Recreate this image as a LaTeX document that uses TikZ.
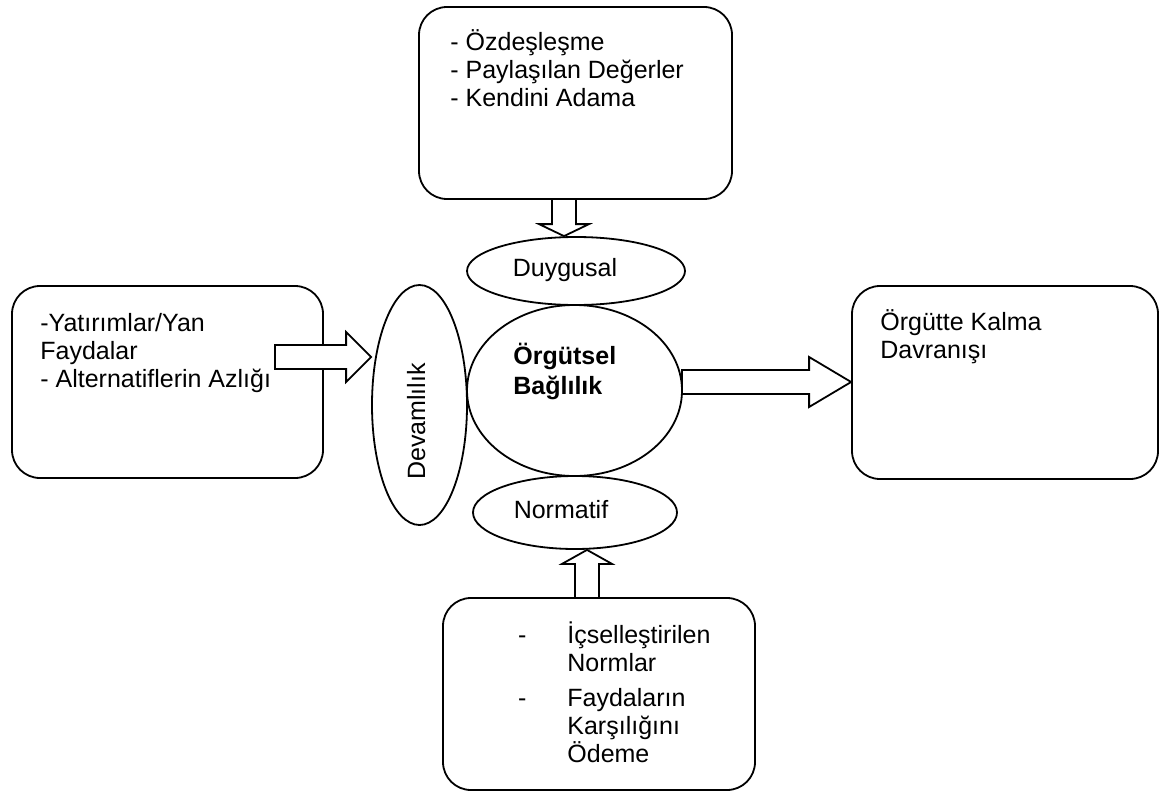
\documentclass[tikz,border=0pt]{standalone}
\usepackage{fontspec}
\setmainfont{Liberation Sans}
\usetikzlibrary{shapes.geometric,calc}
\tikzstyle{box}=[draw, line width=0.9pt, rounded corners=14pt, inner sep=0pt]
\tikzstyle{oval}=[draw, ellipse, line width=0.9pt, inner sep=0pt]
\tikzstyle{fat}=[draw, fill=white, line width=0.9pt, line join=miter]
\tikzstyle{along}=[shift={(\p1)}, rotate=\n1]
\tikzstyle{txt}=[anchor=base west, align=left, inner sep=0pt, font=\fontsize{12.5}{14}\selectfont]
\newcommand{\fatarrow}[3]{%
  \draw[fat] let \p1=(#1), \p2=(#2),
      \n1={atan2(\y2-\y1,\x2-\x1)}, \n2={veclen(\x2-\x1,\y2-\y1)} in
    ([along]0pt,6pt) -- ([along]\n2-#3,6pt) -- ([along]\n2-#3,12.5pt) -- (#2)
    -- ([along]\n2-#3,-12.5pt) -- ([along]\n2-#3,-6pt) -- ([along]0pt,-6pt) -- cycle;}

\begin{document}
\begin{tikzpicture}[x=0.5pt, y=-0.5pt]
				\useasboundingbox (0,0) rectangle (1159,791);

				% boxes
				\node[box, minimum width=156.5pt, minimum height=96pt] (tbox) at (575.5,103) {};
				\node[box, minimum width=155.5pt, minimum height=96pt] (lbox) at (167.5,382) {};
				\node[box, minimum width=153pt, minimum height=96.5pt] (rbox) at (1005,382.5) {};
				\node[box, minimum width=156pt, minimum height=96pt] (bbox) at (599,694) {};

				% ovals
				\node[oval, minimum width=109pt, minimum height=34pt] (duyg) at (576,271) {};
				\node[oval, minimum width=107.5pt, minimum height=85.5pt] (core) at (574.5,390.5) {};
				\node[oval, minimum width=102pt, minimum height=36.5pt] (norm) at (575,512.5) {};
				\node[oval, minimum width=47.5pt, minimum height=120pt] (dev) at (419.5,405) {};

				% texts (anchored at the baseline of the last line)
				\node[txt] (ttop) at (450,107) {- Özdeşleşme\\- Paylaşılan Değerler\\- Kendini Adama};
				\node[txt] (tleft) at (40,387) {-Yatırımlar/Yan\\Faydalar\\- Alternatiflerin Azlığı};
				\node[txt] (tright) at (880,358) {Örgütte Kalma\\Davranışı};
				\node[txt, font=\fontsize{12.5}{15}\selectfont\bfseries] (tcore) at (513,394) {Örgütsel\\Bağlılık};
				\node[txt] (tbot) at (567,762) {\llap{-\hspace{20.5pt}}İçselleştirilen\\Normlar\\[3.5pt]\llap{-\hspace{20.5pt}}Faydaların\\Karşılığını\\Ödeme};
				\node[txt, anchor=base] (tduyg) at (565,276) {Duygusal};
				\node[txt, anchor=base] (tnorm) at (561,518) {Normatif};
				\node[txt, anchor=base, rotate=90] (tdev) at (425,421.5) {Devamlılık};

				% arrows
				\coordinate (ltail) at (275,357);
				\coordinate (ltip) at (ltail -| dev.west);
				\coordinate (rtail) at (682,382);
				\coordinate (rtip) at (rtail -| rbox.west);
				\coordinate (ttail) at (564,199);
				\coordinate (ttip) at (ttail |- duyg.north);
				\coordinate (btail) at (587,598);
				\coordinate (btip) at (btail |- norm.south);

				\fatarrow{ltail}{ltip}{12.5pt}
				\fatarrow{rtail}{rtip}{21pt}
				\fatarrow{ttail}{ttip}{6pt}
				\fatarrow{btail}{btip}{7pt}
\end{tikzpicture}
\end{document}
